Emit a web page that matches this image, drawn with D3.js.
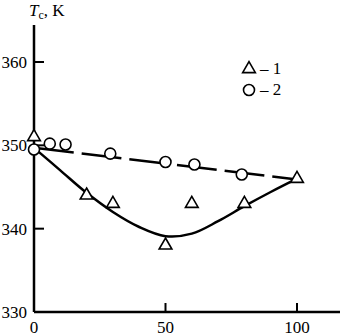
<!DOCTYPE html>
<html>
<head>
<meta charset="utf-8">
<script src="https://cdn.jsdelivr.net/npm/d3@7"></script>
<style>
body { margin: 0; background: #fff; }
text { font-family: "Liberation Serif", "DejaVu Serif", serif; fill: #000; }
</style>
</head>
<body>
<div id="chart"></div>
<script>
// series 1 (triangles) and its fitted curve
const x1 = [0, 20, 30, 50, 60, 80, 100];
const y1 = [351, 344, 343, 338, 343, 343, 346];
const fitX1 = [0, 10, 20, 30, 40, 50, 60, 70, 80, 90, 100];
const fitY1 = [349.7, 347, 344.3, 342, 340.2, 339.1, 339.4, 340.9, 342.7, 344.4, 346];

// series 2 (circles) and its dashed line
const x2 = [0, 6, 12, 29, 50, 61, 79];
const y2 = [349.5, 350.2, 350.1, 349, 348, 347.7, 346.5];
const fitX2 = [0, 100];
const fitY2 = [349.7, 345.9];

const yTicks = [330, 340, 350, 360];
const xTicks = [0, 50, 100];

const W = 342, H = 336;
const svg = d3.select("#chart").append("svg")
    .attr("width", W).attr("height", H);

const x = d3.scaleLinear().domain([0, 100]).range([34, 297]);
const y = d3.scaleLinear().domain([330, 360]).range([312, 62]);

// axes (drawn by hand to get inward ticks)
svg.append("line").attr("x1", 34).attr("x2", 34).attr("y1", 25).attr("y2", y(330))
    .attr("stroke", "#000").attr("stroke-width", 2.5);
svg.append("line").attr("x1", 34).attr("x2", 340).attr("y1", y(330)).attr("y2", y(330))
    .attr("stroke", "#000").attr("stroke-width", 2.5);

svg.selectAll(".ytick").data(yTicks.slice(1)).join("line")
    .attr("x1", 34).attr("x2", 44)
    .attr("y1", d => y(d)).attr("y2", d => y(d))
    .attr("stroke", "#000").attr("stroke-width", 2);
svg.selectAll(".xtick").data(xTicks.slice(1)).join("line")
    .attr("x1", d => x(d)).attr("x2", d => x(d))
    .attr("y1", y(330)).attr("y2", y(330) - 9)
    .attr("stroke", "#000").attr("stroke-width", 2);

svg.selectAll(".ylab").data(yTicks).join("text")
    .attr("x", 27).attr("y", d => y(d) + 6)
    .attr("text-anchor", "end").style("font-size", "17px")
    .text(d => d);
svg.selectAll(".xlab").data(xTicks).join("text")
    .attr("x", d => x(d)).attr("y", 333)
    .attr("text-anchor", "middle").style("font-size", "17px")
    .text(d => d);

const title = svg.append("text").attr("x", 29).attr("y", 16).style("font-size", "17px");
title.append("tspan").style("font-style", "italic").text("T");
title.append("tspan").attr("dy", 3).style("font-size", "12px").text("c");
title.append("tspan").attr("dy", -3).text(", K");

// lines
const line = d3.line().x(d => x(d[0])).y(d => y(d[1])).curve(d3.curveCatmullRom);
svg.append("path")
    .attr("d", line(d3.zip(fitX1, fitY1)))
    .attr("fill", "none").attr("stroke", "#000").attr("stroke-width", 2.5);
svg.append("path")
    .attr("d", d3.line().x(d => x(d[0])).y(d => y(d[1]))(d3.zip(fitX2, fitY2)))
    .attr("fill", "none").attr("stroke", "#000").attr("stroke-width", 2.5)
    .attr("stroke-dasharray", "40,8");

// markers
const tri = d3.symbol().type(d3.symbolTriangle).size(70);
svg.selectAll(".tri").data(d3.zip(x1, y1)).join("path")
    .attr("transform", d => `translate(${x(d[0])},${y(d[1])})`)
    .attr("d", tri)
    .attr("fill", "#fff").attr("stroke", "#000").attr("stroke-width", 1.6);
svg.selectAll(".circ").data(d3.zip(x2, y2)).join("circle")
    .attr("cx", d => x(d[0])).attr("cy", d => y(d[1])).attr("r", 5.5)
    .attr("fill", "#fff").attr("stroke", "#000").attr("stroke-width", 1.6);

// legend
svg.append("path").attr("transform", "translate(249,69)").attr("d", tri)
    .attr("fill", "#fff").attr("stroke", "#000").attr("stroke-width", 1.6);
svg.append("circle").attr("cx", 249).attr("cy", 90).attr("r", 5.5)
    .attr("fill", "#fff").attr("stroke", "#000").attr("stroke-width", 1.6);
svg.append("text").attr("x", 260).attr("y", 74).style("font-size", "17px").text("– 1");
svg.append("text").attr("x", 260).attr("y", 95).style("font-size", "17px").text("– 2");
</script>
</body>
</html>
